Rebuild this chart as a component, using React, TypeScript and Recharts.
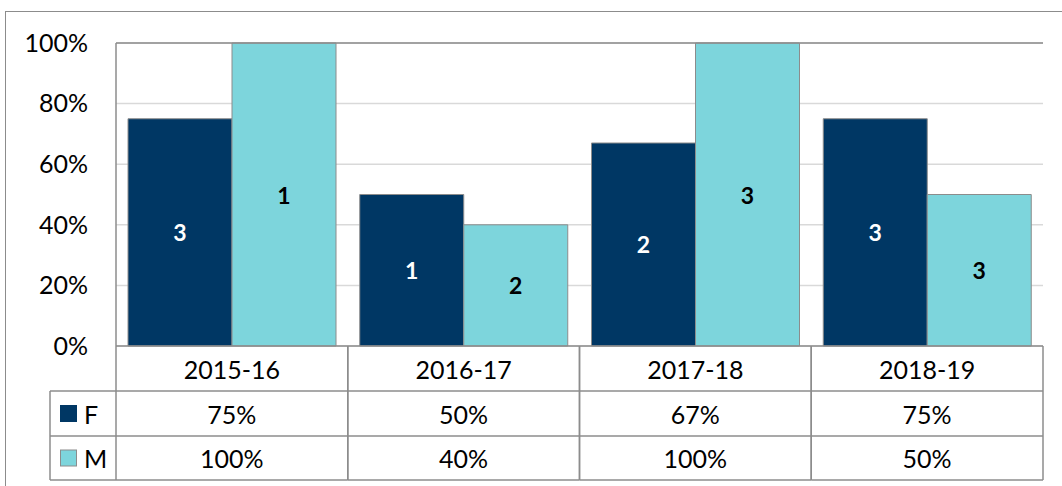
import { BarChart, Bar, XAxis, YAxis, CartesianGrid, ReferenceLine, LabelList } from 'recharts'

const categories = ['2015-16', '2016-17', '2017-18', '2018-19']
const femaleRate = [0.75, 0.5, 0.67, 0.75]
const maleRate = [1, 0.4, 1, 0.5]
const femaleCount = [3, 1, 2, 3]
const maleCount = [1, 2, 3, 3]
const yTicks = [0, 0.2, 0.4, 0.6, 0.8, 1]

const F_COLOR = '#003764'
const M_COLOR = '#7dd5dc'
const LINE = '#8c8c8c'
const FONT = 'Lato, "Open Sans", sans-serif'

const data = categories.map((c, i) => ({
  name: c,
  F: femaleRate[i],
  M: maleRate[i],
  fCount: femaleCount[i],
  mCount: maleCount[i],
}))

const pct = (v: number) => `${Math.round(v * 100)}%`

// table geometry (layout only)
const PLOT_LEFT = 116
const PLOT_RIGHT = 1043
const BAND = (PLOT_RIGHT - PLOT_LEFT) / categories.length
const ROW0 = 346
const ROW1 = 391
const ROW2 = 436
const ROW3 = 480
const KEY_LEFT = 50

const TableTick = (props: any) => {
  const { x, payload } = props
  const i = payload.index
  const l = x - BAND / 2
  const r = x + BAND / 2
  const txt = { fontFamily: FONT, fontSize: 25, fill: '#000', textAnchor: 'middle' as const, dominantBaseline: 'central' as const }
  return (
    <g>
      <line x1={l} x2={l} y1={ROW0} y2={ROW3} stroke={LINE} strokeWidth={1.5} />
      <line x1={r} x2={r} y1={ROW0} y2={ROW3} stroke={LINE} strokeWidth={1.5} />
      <line x1={l} x2={r} y1={ROW1} y2={ROW1} stroke={LINE} strokeWidth={1.5} />
      <line x1={l} x2={r} y1={ROW2} y2={ROW2} stroke={LINE} strokeWidth={1.5} />
      <line x1={l} x2={r} y1={ROW3} y2={ROW3} stroke={LINE} strokeWidth={1.5} />
      <text x={x} y={(ROW0 + ROW1) / 2} {...txt}>{payload.value}</text>
      <text x={x} y={(ROW1 + ROW2) / 2} {...txt}>{pct(femaleRate[i])}</text>
      <text x={x} y={(ROW2 + ROW3) / 2} {...txt}>{pct(maleRate[i])}</text>
      {i === 0 && (
        <g>
          <line x1={KEY_LEFT} x2={l} y1={ROW1} y2={ROW1} stroke={LINE} strokeWidth={1.5} />
          <line x1={KEY_LEFT} x2={l} y1={ROW2} y2={ROW2} stroke={LINE} strokeWidth={1.5} />
          <line x1={KEY_LEFT} x2={l} y1={ROW3} y2={ROW3} stroke={LINE} strokeWidth={1.5} />
          <line x1={KEY_LEFT} x2={KEY_LEFT} y1={ROW1} y2={ROW3} stroke={LINE} strokeWidth={1.5} />
          <rect x={60} y={405} width={17} height={17} fill={F_COLOR} />
          <text x={84} y={(ROW1 + ROW2) / 2} {...txt} textAnchor="start">F</text>
          <rect x={60.5} y={450} width={16} height={16} fill={M_COLOR} stroke={LINE} />
          <text x={84} y={(ROW2 + ROW3) / 2} {...txt} textAnchor="start">M</text>
        </g>
      )}
    </g>
  )
}

const makeLabel = (color: string) => (props: any) => {
  const { x, y, width, height, value } = props
  return (
    <text
      x={x + width / 2}
      y={y + height / 2}
      fill={color}
      fontFamily={FONT}
      fontWeight={700}
      fontSize={23}
      textAnchor="middle"
      dominantBaseline="central"
    >
      {value}
    </text>
  )
}

export default function App() {
  return (
    <div style={{ position: 'absolute', left: 0, top: 0, width: 1062, height: 486, overflow: 'hidden', background: '#fff' }}>
      <div style={{ position: 'absolute', left: 5, top: 11, width: 1200, height: 600, border: `1.5px solid ${LINE}` }} />
      <div style={{ position: 'absolute', left: 0, top: 0 }}>
        <BarChart
          width={1062}
          height={486}
          data={data}
          margin={{ top: 43, right: 19, left: 36, bottom: 0 }}
          barCategoryGap={12}
          barGap={0}
        >
          <CartesianGrid vertical={false} stroke="#d9d9d9" strokeWidth={1.5} />
          <XAxis
            dataKey="name"
            height={140}
            tickLine={false}
            axisLine={{ stroke: LINE, strokeWidth: 1.5 }}
            tick={<TableTick />}
            interval={0}
          />
          <YAxis
            width={80}
            domain={[0, 1]}
            ticks={yTicks}
            tickFormatter={pct}
            tickLine={false}
            tickSize={0}
            tickMargin={28}
            axisLine={{ stroke: LINE, strokeWidth: 1.5 }}
            tick={{ fontFamily: FONT, fontSize: 25, fill: '#000' }}
          />
          <YAxis
            yAxisId="r"
            orientation="right"
            width={0}
            domain={[0, 1]}
            tick={false}
            tickLine={false}
            axisLine={{ stroke: LINE, strokeWidth: 1.5 }}
          />
          <ReferenceLine y={1} stroke={LINE} strokeWidth={1.5} />
          <Bar dataKey="F" fill={F_COLOR} stroke={LINE} strokeWidth={1} isAnimationActive={false}>
            <LabelList dataKey="fCount" content={makeLabel('#fff')} />
          </Bar>
          <Bar dataKey="M" fill={M_COLOR} stroke={LINE} strokeWidth={1} isAnimationActive={false}>
            <LabelList dataKey="mCount" content={makeLabel('#000')} />
          </Bar>
        </BarChart>
      </div>
    </div>
  )
}
